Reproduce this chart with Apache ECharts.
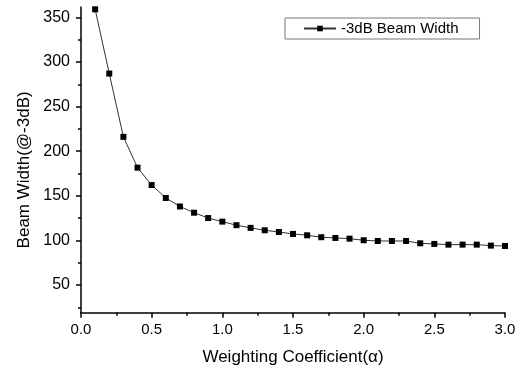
<!DOCTYPE html>
<html>
<head>
<meta charset="utf-8">
<script src="https://cdn.jsdelivr.net/npm/echarts@6/dist/echarts.min.js"></script>
<style>
html,body{margin:0;padding:0;background:#fff;}
#c{width:525px;height:372px;}
</style>
</head>
<body>
<div id="c"></div>
<script>
// Data
var alphaValues = [0.1,0.2,0.3,0.4,0.5,0.6,0.7,0.8,0.9,1.0,1.1,1.2,1.3,1.4,1.5,1.6,1.7,1.8,1.9,2.0,2.1,2.2,2.3,2.4,2.5,2.6,2.7,2.8,2.9,3.0];
var beamWidth = [359,287,216,181.5,162,147.5,138,131,125,121,117,114,111.3,109.4,107.2,105.7,103.5,102.7,101.9,100.1,99.3,99.3,99.3,96.7,96,95.2,95.2,95.2,94.1,93.7];
var seriesName = '-3dB Beam Width';
var xTickLabels = ['0.0','0.5','1.0','1.5','2.0','2.5','3.0'];
var yMajorTicks = [50,100,150,200,250,300,350];
var yMinorTicks = [25,75,125,175,225,275,325];

var FONT = 'Liberation Sans, Arial, sans-serif';
var points = alphaValues.map(function (a, i) { return [a, beamWidth[i]]; });

var chart = echarts.init(document.getElementById('c'), null, {renderer: 'canvas'});
chart.setOption({
  animation: false,
  backgroundColor: '#fff',
  grid: {left: 81, right: 20, top: 7, bottom: 59.3, containLabel: false},
  legend: {
    data: [seriesName],
    left: 285, top: 18,
    orient: 'horizontal',
    borderColor: '#777', borderWidth: 1,
    padding: [3, 21, 3, 18],
    itemWidth: 32, itemHeight: 7,
    textStyle: {fontFamily: FONT, fontSize: 15, color: '#000'}
  },
  xAxis: {
    type: 'value', min: 0, max: 3, interval: 0.5,
    name: 'Weighting Coefficient(α)', nameLocation: 'middle', nameGap: 36,
    nameTextStyle: {fontFamily: FONT, fontSize: 17, color: '#000'},
    axisLine: {show: true, lineStyle: {color: '#000', width: 1.5}},
    axisTick: {show: true, inside: false, length: 5, lineStyle: {color: '#000', width: 1.5}},
    minorTick: {show: true, splitNumber: 2, length: 3, lineStyle: {color: '#000', width: 1.5}},
    splitLine: {show: false},
    axisLabel: {
      fontFamily: FONT, fontSize: 15, color: '#000', margin: 10,
      formatter: function (v) { return xTickLabels[Math.round(v / 0.5)] || ''; }
    }
  },
  yAxis: [{
    type: 'value', min: 18.9, max: 361.6, position: 'left',
    name: 'Beam Width(@-3dB)', nameLocation: 'middle', nameGap: 47,
    nameTextStyle: {fontFamily: FONT, fontSize: 17, color: '#000', padding: [0, 20, 0, 0]},
    axisLine: {show: true, lineStyle: {color: '#000', width: 1.5}},
    axisTick: {show: true, inside: false, length: 5, customValues: yMajorTicks, lineStyle: {color: '#000', width: 1.5}},
    splitLine: {show: false},
    axisLabel: {fontFamily: FONT, fontSize: 16, color: '#000', margin: 11, customValues: yMajorTicks}
  }, {
    type: 'value', min: 18.9, max: 361.6, position: 'left', offset: 0,
    axisLine: {show: false},
    axisTick: {show: true, inside: false, length: 3, customValues: yMinorTicks, lineStyle: {color: '#000', width: 1.5}},
    axisLabel: {show: false},
    splitLine: {show: false}
  }],
  series: [{
    name: seriesName,
    type: 'line',
    yAxisIndex: 0,
    data: points,
    symbol: 'rect',
    symbolSize: 6,
    clip: true,
    itemStyle: {color: '#000'},
    lineStyle: {color: '#333', width: 1}
  }]
});
</script>
</body>
</html>
